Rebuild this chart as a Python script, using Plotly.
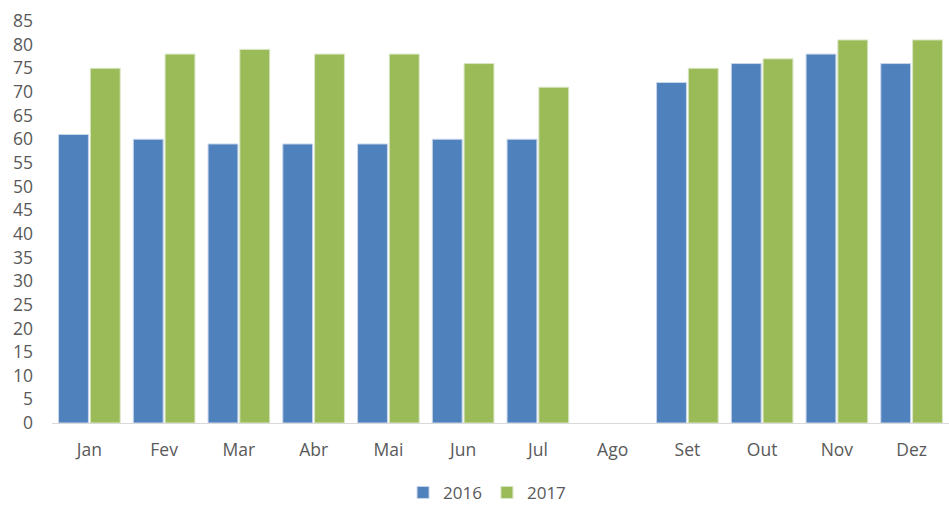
import plotly.graph_objects as go

months = ["Jan", "Fev", "Mar", "Abr", "Mai", "Jun", "Jul", "Ago", "Set", "Out", "Nov", "Dez"]
v2016 = [61, 60, 59, 59, 59, 60, 60, None, 72, 76, 78, 76]
v2017 = [75, 78, 79, 78, 78, 76, 71, None, 75, 77, 81, 81]
y_ticks = list(range(0, 90, 5))

fig = go.Figure()
fig.add_trace(go.Bar(x=months, y=v2016, name="2016",
                     marker=dict(color="#4F81BD", line=dict(color="#c9d6ea", width=1))))
fig.add_trace(go.Bar(x=months, y=v2017, name="2017",
                     marker=dict(color="#9BBB59", line=dict(color="#d9e6c4", width=1))))

fig.update_layout(
    width=949, height=505,
    barmode="group", bargap=0.15, bargroupgap=0.06,
    plot_bgcolor="white", paper_bgcolor="white",
    margin=dict(l=52, r=0, t=21, b=82, autoexpand=False),
    font=dict(family="Open Sans, Liberation Sans, sans-serif", size=17.5, color="#595959"),
    showlegend=True,
    legend=dict(orientation="h", x=0.485, xanchor="center",
                yref="container", y=0.024, yanchor="middle",
                itemwidth=30, font=dict(size=17, color="#595959")),
    xaxis=dict(showline=True, linecolor="#d9d9d9", linewidth=1, ticks="",
               showgrid=False, ticklabelstandoff=11, automargin=False),
    yaxis=dict(range=[0, 85], tickvals=y_ticks, showgrid=False, zeroline=False,
               showline=False, ticks="", automargin=False, ticklabelstandoff=18),
)

fig.write_html("out.html", config={"displayModeBar": False},
               post_script="document.body.style.margin='0';")
